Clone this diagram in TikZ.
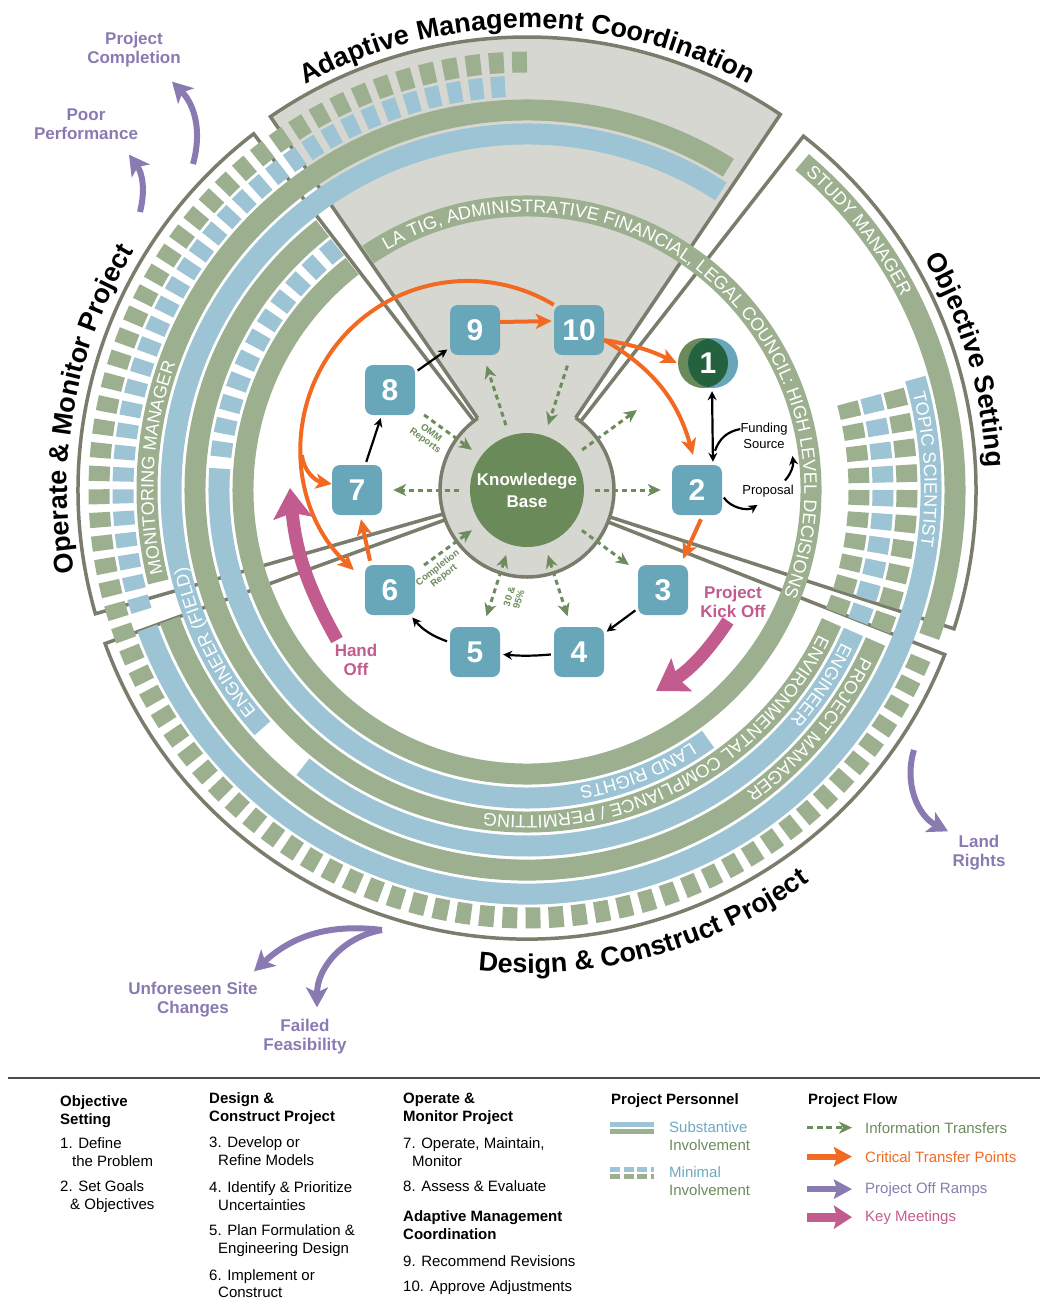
\documentclass[tikz,border=0pt]{standalone}
\usepackage{fontspec}
\setmainfont{Liberation Sans}
\usepackage{tikz}
\usetikzlibrary{arrows.meta}
\usetikzlibrary{decorations.text}
\definecolor{bandgreen}{HTML}{9CB08F}
\definecolor{bandblue}{HTML}{9DC4D4}
\definecolor{rimgray}{HTML}{7A7C6C}
\definecolor{wedgegray}{HTML}{D6D7D1}
\definecolor{kbgreen}{HTML}{6A8A5A}
\definecolor{stageblue}{HTML}{68A6BA}
\definecolor{deepgreen}{HTML}{24613F}
\definecolor{critorange}{HTML}{F26A21}
\definecolor{ramppurple}{HTML}{8A7AB2}
\definecolor{meetpink}{HTML}{C25B8E}
\definecolor{infogreen}{HTML}{6C8C5B}
\definecolor{legblue}{HTML}{6FA8BF}
\newcommand{\ringfont}{\fontsize{18}{18}\selectfont}
\newcommand{\titlefont}{\fontsize{27}{27}\selectfont\bfseries}
\newcommand{\legfont}{\fontsize{15}{18}\selectfont}

\begin{document}
\begin{tikzpicture}[x=1pt,y=1pt]
   \useasboundingbox (0,0) rectangle (1040,-1302);
   \tikzstyle{rim} = [draw=rimgray, line width=3.5pt]
   \tikzstyle{gband} = [draw=bandgreen, line width=21pt]
   \tikzstyle{bband} = [draw=bandblue, line width=21pt]
   \tikzstyle{ringtext} = [decorate, decoration={text along path,
     text color=white, text align=center}]
   \tikzstyle{titletext} = [decorate, decoration={text along path,
     text color=black, text align=center}]
   \tikzstyle{stage} = [fill=stageblue, rounded corners=8pt,
     minimum size=50pt, inner sep=0pt, text=white,
     font=\fontsize{30}{30}\selectfont\bfseries]
   \tikzstyle{info} = [draw=infogreen, line width=3pt,
     dash pattern=on 5pt off 4pt, shorten <=11pt, shorten >=11pt,
     -{Stealth[length=13pt,width=12pt,inset=4pt]}]
   \tikzstyle{infoboth} = [info,
     {Stealth[length=13pt,width=12pt,inset=4pt]}-{Stealth[length=13pt,width=12pt,inset=4pt]}]
   \tikzstyle{blk} = [draw=black, line width=2.2pt, shorten <=3pt,
     shorten >=3pt, -{Stealth[length=9pt,width=9pt]}]
   \tikzstyle{crit} = [draw=critorange, line width=4pt,
     -{Stealth[length=16pt,width=15pt,inset=4pt]}]
   \tikzstyle{ramp} = [draw=ramppurple, line width=6pt,
     -{Stealth[length=20pt,width=22pt,inset=5pt]}]
   \tikzstyle{meet} = [draw=meetpink, line width=13pt,
     -{Stealth[length=30pt,width=38pt,inset=5pt]}]
   \tikzstyle{flowlbl} = [text=infogreen, align=center, inner sep=0pt,
     font=\fontsize{9.5}{10}\selectfont\bfseries]
   \tikzstyle{rampname} = [text=ramppurple, align=center, inner sep=0pt,
     font=\fontsize{17}{19}\selectfont\bfseries]
   \tikzstyle{meetname} = [text=meetpink, align=center, inner sep=0pt,
     font=\fontsize{17}{19}\selectfont\bfseries]
   \tikzstyle{note} = [align=center, inner sep=0pt,
     font=\fontsize{13}{16}\selectfont]
   \tikzstyle{leg} = [anchor=base west, inner sep=0pt, font=\legfont]
   \tikzstyle{leghead} = [anchor=base west, inner sep=0pt,
     font=\legfont\bfseries]
   %%
   \begin{scope}[shift={(527,-490)}]
     % sectors
     \filldraw[rim, fill=white] (0,0) -- (-18:449)
       arc[start angle=-18, end angle=52, radius=449] -- cycle;
     \filldraw[rim, fill=white] (0,0) -- (127.5:449)
       arc[start angle=127.5, end angle=196, radius=449] -- cycle;
     \filldraw[rim, fill=white] (0,0) -- (200:449)
       arc[start angle=200, end angle=338.5, radius=449] -- cycle;
     \filldraw[rim, fill=wedgegray] (0,0) -- (56:453)
       arc[start angle=56, end angle=124.5, radius=453] -- cycle;
     \fill[wedgegray] (0,0) circle (87);
     \draw[rim] (124.5:87) arc[start angle=124.5, end angle=416, radius=87];
     % personnel rings
     \draw[gband] (124:284) arc[start angle=124, end angle=-232, radius=284];
     \foreach \a in {128,132.3,...,172}
       \draw[bband] (\a:308) arc[start angle=\a, end angle=\a+2.8, radius=308];
     \draw[bband] (176:308) arc[start angle=176, end angle=306, radius=308];
     \draw[gband] (128:332) arc[start angle=128, end angle=336.5, radius=332];
     \draw[bband] (57:356) arc[start angle=57, end angle=222, radius=356];
     \draw[bband] (231:356) arc[start angle=231, end angle=336.5, radius=356];
     \draw[gband] (58:380) arc[start angle=58, end angle=194, radius=380];
     \draw[gband] (200:380) arc[start angle=200, end angle=336.5, radius=380];
     \draw[bband] (200:404) arc[start angle=200, end angle=376, radius=404];
     \draw[gband] (-20:428) arc[start angle=-20, end angle=50, radius=428];
     \foreach \a in {93.1,96.2,...,196}
       \draw[bband] (\a:404) arc[start angle=\a, end angle=\a+2, radius=404];
     \foreach \a in {90,93.1,...,335.5}
       \draw[gband] (\a:428) arc[start angle=\a, end angle=\a+2, radius=428];
     \foreach \k [evaluate=\k as \a using 12.6-3.8*\k] in {0,...,9} {
       \draw[gband] (\a:332) arc[start angle=\a, end angle=\a+2.6, radius=332];
       \draw[bband] (\a:356) arc[start angle=\a, end angle=\a+2.6, radius=356];
       \draw[gband] (\a:380) arc[start angle=\a, end angle=\a+2.6, radius=380];
     }
     % ring names
     \path[ringtext, decoration={text={|\ringfont|LA TIG, ADMINISTRATIVE FINANCIAL, LEGAL COUNCIL: HIGH LEVEL DECISIONS}}]
       (149:277.5) arc[start angle=149, end angle=-51, radius=277.5];
     \path[ringtext, decoration={text={|\ringfont|LAND RIGHTS}}]
       (-18.5:301.5) arc[start angle=-18.5, end angle=-118.5, radius=301.5];
     \path[ringtext, decoration={text={|\ringfont|ENVIRONMENTAL COMPLIANCE / PERMITTING}}]
       (-2:325.5) arc[start angle=-2, end angle=-122, radius=325.5];
     \path[ringtext, decoration={text={|\ringfont|ENGINEER}}]
       (6.5:349.5) arc[start angle=6.5, end angle=-73.5, radius=349.5];
     \path[ringtext, decoration={text={|\ringfont|PROJECT MANAGER}}]
       (9.7:373.5) arc[start angle=9.7, end angle=-90.3, radius=373.5];
     \path[ringtext, decoration={text={|\ringfont|TOPIC SCIENTIST}}]
       (53:397.5) arc[start angle=53, end angle=-47, radius=397.5];
     \path[ringtext, decoration={text={|\ringfont|STUDY MANAGER}}]
       (88:421.5) arc[start angle=88, end angle=-12, radius=421.5];
     \path[ringtext, decoration={text={|\ringfont|MONITORING MANAGER}}]
       (226.5:373.5) arc[start angle=226.5, end angle=126.5, radius=373.5];
     \path[ringtext, decoration={text={|\ringfont|ENGINEER (FIELD)}}]
       (256:349.5) arc[start angle=256, end angle=156, radius=349.5];
     % sector names
     \path[titletext, decoration={text={|\titlefont|Adaptive Management Coordination}}]
       (150:462) arc[start angle=150, end angle=30, radius=462];
     \path[titletext, decoration={text={|\titlefont|Objective Setting}}]
       (66.5:460) arc[start angle=66.5, end angle=-33.5, radius=460];
     \path[titletext, decoration={text={|\titlefont|Operate {\&} Monitor Project}}]
       (219.5:460) arc[start angle=219.5, end angle=119.5, radius=460];
     \path[titletext, decoration={text={|\titlefont|Design {\&} Construct Project}}]
       (235:483) arc[start angle=235, end angle=335, radius=483];
   \end{scope}
   %%
   \node[circle, fill=kbgreen, minimum size=114pt, inner sep=0pt, text=white,
     align=center, font=\fontsize{17}{22}\selectfont\bfseries]
     (kb) at (527,-490) {Knowledege\\Base};
   \fill[kbgreen] (703,-363) circle (25);
   \fill[stageblue] (713,-363) circle (25);
   \begin{scope}
     \clip (703,-363) circle (25);
     \fill[deepgreen] (713,-363) circle (25);
   \end{scope}
   \node[circle, minimum size=50pt, inner sep=0pt, text=white,
     font=\fontsize{30}{30}\selectfont\bfseries] (1) at (708,-363) {1};
   \node[stage] (2) at (697,-490) {2};
   \node[stage] (3) at (663,-590) {3};
   \node[stage] (4) at (579,-652) {4};
   \node[stage] (5) at (475,-652) {5};
   \node[stage] (6) at (390,-590) {6};
   \node[stage] (7) at (357,-490) {7};
   \node[stage] (8) at (390,-390) {8};
   \node[stage] (9) at (475,-330) {9};
   \node[stage] (10) at (579,-330) {10};
   %%
   \draw[info] (kb) -- (7);
   \draw[info] (kb) -- (2);
   \draw[info] (kb) -- (9);
   \draw[info] (10) -- (kb);
   \coordinate (kbne) at (637,-410);
   \draw[info, shorten >=0pt] (kb) -- (kbne);
   \draw[info] (8) -- (kb);
   \draw[info] (6) -- (kb);
   \draw[infoboth] (kb) -- (5);
   \draw[infoboth] (kb) -- (4);
   \draw[info] (kb) -- (3);
   \node[flowlbl, rotate=-36] (omm) at (428,-437) {OMM\\Reports};
   \node[flowlbl, rotate=38] (compl) at (441,-572) {Completion\\Report};
   \node[flowlbl, rotate=72] (pct) at (514,-598) {30 \&\\95\%};
   %%
   \draw[blk] (8) -- (9);
   \draw[blk] (7) -- (8);
   \draw[blk] (5) to[bend left=15] (6);
   \draw[blk] (4) to[bend left=5] (5);
   \draw[blk] (3) -- (4);
   \draw[blk, {Stealth[length=9pt,width=9pt]}-{Stealth[length=9pt,width=9pt]}]
     ([xshift=16pt]2.north) -- ([xshift=4pt]1.south);
   \node[note] (fund) at (764,-436) {Funding\\Source};
   \node[note] (prop) at (768,-491) {Proposal};
   \draw[line width=2.2pt] ([yshift=7pt]fund.west) to[bend right=30]
     ([xshift=18pt,yshift=14pt]2.north);
   \draw[blk] ([yshift=-5pt]2.east) to[bend right=45]
     ([xshift=-8pt,yshift=-6pt]prop.south);
   \draw[blk] ([xshift=15pt,yshift=2pt]prop.north) to[bend right=25]
     ([xshift=28pt,yshift=-4pt]fund.south);
   %%
   \draw[crit, shorten >=2pt] ([yshift=8pt]9.east) -- ([yshift=9pt]10.west);
   \draw[crit] ([yshift=-10pt]10.east) to[bend left=8] ([xshift=-6pt]1.west);
   \draw[crit] ([yshift=-10pt]10.east) to[bend left=22]
     ([xshift=-4pt,yshift=10pt]2.north);
   \draw[crit] ([xshift=4pt,yshift=-4pt]2.south) -- ([xshift=20pt,yshift=6pt]3.north);
   \draw[crit] ([xshift=-20pt,yshift=4pt]6.north) -- ([xshift=4pt,yshift=-4pt]7.south);
   \draw[crit] (10.north west) arc[start angle=59, end angle=227, radius=167];
   \coordinate (fork) at (302,-455);
   \draw[crit] (fork) to[out=-85, in=170] ([yshift=6pt]7.west);
   %%
   \node[meetname] (handoff) at (356,-660) {Hand\\Off};
   \node[meetname] (kickoff) at (733,-602) {Project\\Kick Off};
   \coordinate (handtip) at (290,-488);
   \coordinate (kicktip) at (656,-691);
   \draw[meet] ([xshift=-19pt,yshift=4pt]handoff.north) to[bend left=12] (handtip);
   \draw[meet] ([xshift=-5pt,yshift=-3pt]kickoff.south) to[bend left=12] (kicktip);
   %%
   \node[rampname] (pcomp) at (134,-50) {Project\\Completion};
   \node[rampname] (poor) at (86,-124) {Poor\\Performance};
   \node[rampname] (landr) at (979,-853) {Land\\Rights};
   \node[rampname] (unfore) at (193,-1000) {Unforeseen Site\\Changes};
   \node[rampname] (failed) at (305,-1037) {Failed\\Feasibility};
   \coordinate (compbase) at (193,-164);
   \coordinate (poorbase) at (140,-212);
   \coordinate (landbase) at (914,-750);
   \coordinate (sitebase) at (382,-930);
   \draw[ramp] (compbase) to[bend right=30] ([xshift=38pt,yshift=-14pt]pcomp.south);
   \draw[ramp] (poorbase) to[bend right=25] ([xshift=43pt,yshift=-15pt]poor.south);
   \draw[ramp] (landbase) to[bend right=40] ([xshift=-31pt,yshift=4pt]landr.north);
   \draw[ramp] (sitebase) to[bend right=25] ([xshift=61pt,yshift=11pt]unfore.north);
   \draw[ramp] (sitebase) to[bend right=40] ([xshift=12pt,yshift=12pt]failed.north);
   %% legend
   \draw[line width=2.5pt, draw=black!70] (8,-1078) -- (1040,-1078);
   \foreach \x/\y/\t [count=\i] in {60/1106/Objective, 60/1124/Setting,
       209/1103/Design \&, 209/1121/Construct Project, 403/1103/Operate \&,
       403/1121/Monitor Project, 403/1221/Adaptive Management,
       403/1239/Coordination, 611/1104/Project Personnel, 808/1104/Project Flow}
     \node[leghead] (head\i) at (\x,-\y) {\t};
   \foreach \x/\y/\t [count=\i] in {60/1148/1. Define, 72/1166/the Problem,
       60/1191/2. Set Goals, 70/1209/\& Objectives, 209/1147/3. Develop or,
       218/1165/Refine Models, 209/1192/4. Identify \& Prioritize,
       218/1210/Uncertainties, 209/1235/5. Plan Formulation \&,
       218/1253/Engineering Design, 209/1280/6. Implement or,
       218/1297/Construct, 403/1148/{7. Operate, Maintain,}, 412/1166/Monitor,
       403/1191/8. Assess \& Evaluate, 403/1266/9. Recommend Revisions,
       403/1291/10. Approve Adjustments}
     \node[leg] (item\i) at (\x,-\y) {\t};
   \node[leg, text=legblue] (subst) at (669,-1132) {Substantive};
   \node[leg, text=infogreen] (substb) at (669,-1150) {Involvement};
   \node[leg, text=legblue] (minim) at (669,-1177) {Minimal};
   \node[leg, text=infogreen] (minimb) at (669,-1195) {Involvement};
   \fill[bandblue] ([xshift=-59pt,yshift=10pt]subst.base west) rectangle
     ([xshift=-15pt,yshift=5.5pt]subst.base west);
   \fill[bandgreen] ([xshift=-59pt,yshift=3pt]subst.base west) rectangle
     ([xshift=-15pt,yshift=-1.5pt]subst.base west);
   \draw[bandblue, line width=5pt, dash pattern=on 10pt off 3.5pt]
     ([xshift=-59pt,yshift=8pt]minim.base west) -- ([xshift=-15pt,yshift=8pt]minim.base west);
   \draw[bandgreen, line width=5pt, dash pattern=on 10pt off 3.5pt]
     ([xshift=-59pt,yshift=0.5pt]minim.base west) -- ([xshift=-15pt,yshift=0.5pt]minim.base west);
   \node[leg, text=infogreen] (infot) at (865,-1133) {Information Transfers};
   \node[leg, text=critorange] (critt) at (865,-1162) {Critical Transfer Points};
   \node[leg, text=ramppurple] (rampt) at (865,-1193) {Project Off Ramps};
   \node[leg, text=meetpink] (meett) at (865,-1221) {Key Meetings};
   \draw[info, shorten <=0pt, shorten >=0pt, dash pattern=on 6pt off 3.5pt]
     ([xshift=-58pt]infot.west) -- ([xshift=-13pt]infot.west);
   \draw[crit, line width=6pt, -{Stealth[length=18pt,width=19pt,inset=3pt]}]
     ([xshift=-58pt]critt.west) -- ([xshift=-13pt]critt.west);
   \draw[ramp, -{Stealth[length=18pt,width=19pt,inset=3pt]}]
     ([xshift=-58pt]rampt.west) -- ([xshift=-13pt]rampt.west);
   \draw[meet, line width=9pt, -{Stealth[length=18pt,width=23pt,inset=3pt]}]
     ([xshift=-58pt]meett.west) -- ([xshift=-13pt]meett.west);
\end{tikzpicture}
\end{document}
